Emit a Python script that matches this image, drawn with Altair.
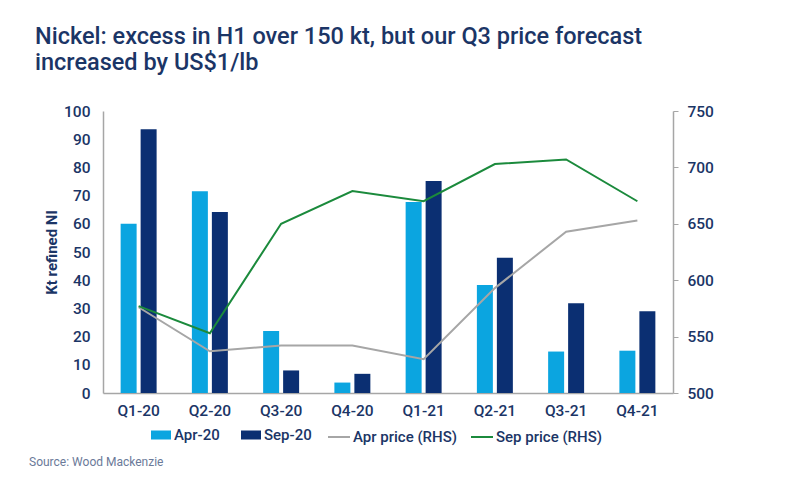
import altair as alt
import pandas as pd

quarters = ["Q1-20", "Q2-20", "Q3-20", "Q4-20", "Q1-21", "Q2-21", "Q3-21", "Q4-21"]
apr20 = [60, 71.5, 22, 3.7, 67.7, 38.3, 14.7, 15]
sep20 = [93.5, 64.2, 8, 6.8, 75.2, 48, 31.8, 29]
apr_price = [576, 537, 542, 542, 530, 593, 643, 653]
sep_price = [577, 553, 650, 679, 670, 703, 707, 670]

bar_series = ["Apr-20", "Sep-20"]
line_series = ["Apr price (RHS)", "Sep price (RHS)"]
title_lines = ["Nickel: excess in H1 over 150 kt, but our Q3 price forecast",
               "increased by US$1/lb"]
source_text = "Source: Wood Mackenzie"

NAVY = "#1b3566"
LIGHT = "#0ba5e0"
DARK = "#0b2f72"
GREY = "#a6a6a6"
GREEN = "#1b8a3c"
FONT = "Roboto"
W = 500

bar_rows = []
for q, a, s in zip(quarters, apr20, sep20):
    bar_rows.append({"quarter": q, "series": bar_series[0], "value": a})
    bar_rows.append({"quarter": q, "series": bar_series[1], "value": s})
bar_df = pd.DataFrame(bar_rows)

line_rows = []
for q, a, s in zip(quarters, apr_price, sep_price):
    line_rows.append({"quarter": q, "series": line_series[0], "price": a})
    line_rows.append({"quarter": q, "series": line_series[1], "price": s})
line_df = pd.DataFrame(line_rows)

x_scale = alt.Scale(paddingInner=0.495, paddingOuter=0.2475)

bars = alt.Chart(bar_df).mark_bar().encode(
    x=alt.X("quarter:N", sort=quarters, scale=x_scale, title=None,
            axis=alt.Axis(labelAngle=0, tickSize=0, labelPadding=10, domainColor=GREY,
                          domainWidth=1.5, labelFontSize=15.5, labelColor=NAVY, labelFont=FONT,
                          labelFontWeight=W)),
    xOffset=alt.XOffset("series:N", sort=bar_series, scale=alt.Scale(paddingInner=0.2)),
    y=alt.Y("value:Q", scale=alt.Scale(domain=[0, 100]),
            axis=alt.Axis(title="Kt refined NI", values=list(range(0, 101, 10)), grid=False,
                          tickSize=0, labelPadding=13, domainColor=GREY, domainWidth=1.5,
                          labelFontSize=15.5, labelColor=NAVY, labelFont=FONT,
                          labelFontWeight=W,
                          titleFontSize=15, titleColor=NAVY, titleFont=FONT,
                          titleFontWeight="bold", titlePadding=4)),
    color=alt.Color("series:N", scale=alt.Scale(domain=bar_series, range=[LIGHT, DARK]),
                    legend=alt.Legend(title=None, orient="none", legendX=48, legendY=314,
                                      direction="horizontal", columns=2, columnPadding=21,
                                      symbolType="M-1,-0.45H1V0.45H-1Z", symbolSize=400,
                                      symbolStrokeWidth=0, labelFontSize=15, labelColor=NAVY,
                                      labelFont=FONT, labelFontWeight=W, labelOffset=3,
                                      padding=0)),
)

lines = alt.Chart(line_df).mark_line(strokeWidth=2).encode(
    x=alt.X("quarter:N", sort=quarters, bandPosition=0.5),
    y=alt.Y("price:Q", scale=alt.Scale(domain=[500, 750]),
            axis=alt.Axis(orient="right", title=None, values=list(range(500, 751, 50)),
                          grid=False, tickSize=5, tickColor=GREY, labelPadding=9,
                          domainColor=GREY, domainWidth=1.5, labelFontSize=15.5,
                          labelColor=NAVY, labelFont=FONT, labelFontWeight=W)),
    stroke=alt.Stroke("series:N", scale=alt.Scale(domain=line_series, range=[GREY, GREEN]),
                      legend=alt.Legend(title=None, orient="none", legendX=224, legendY=314,
                                        direction="horizontal", columns=2, columnPadding=9,
                                        symbolType="stroke", symbolSize=484,
                                        symbolStrokeWidth=2, labelFontSize=15, labelColor=NAVY,
                                        labelFont=FONT, labelFontWeight=W, labelOffset=2,
                                        padding=0)),
)

source = alt.Chart(pd.DataFrame({"t": [source_text]})).mark_text(
    align="left", baseline="middle", fontSize=12, color="#6b7a99", font=FONT
).encode(text="t:N", x=alt.value(-74), y=alt.value(351))

chart = alt.layer(bars, lines, source).resolve_scale(y="independent").properties(
    width=570, height=282,
    autosize=alt.AutoSizeParams(type="none"),
    padding={"left": 95, "top": 103, "right": 110, "bottom": 80},
    title=alt.Title(title_lines, anchor="start", frame="group", dx=-68, fontSize=23.5,
                    font=FONT, color=NAVY, fontWeight=W, lineHeight=26, offset=30),
).configure_view(stroke=None)

chart.save("out.html", embed_options={"renderer": "svg", "actions": False})
